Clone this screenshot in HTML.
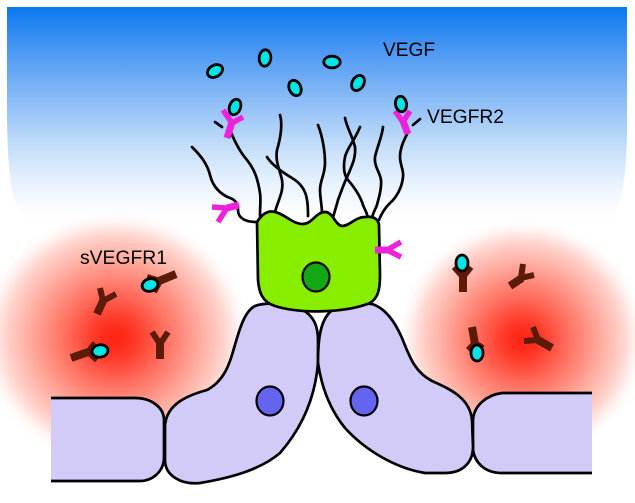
<!DOCTYPE html>
<html>
<head>
<meta charset="utf-8">
<style>
html,body{margin:0;padding:0;background:#fff;}
svg{display:block;}
</style>
</head>
<body>
<svg width="635" height="503" viewBox="0 0 635 503" xmlns="http://www.w3.org/2000/svg">
<defs>
  <linearGradient id="sky" x1="0" y1="7" x2="0" y2="222" gradientUnits="userSpaceOnUse">
    <stop offset="0" stop-color="#0a78f0"/>
    <stop offset="0.18" stop-color="#4494f3"/>
    <stop offset="0.42" stop-color="#88baf7"/>
    <stop offset="0.65" stop-color="#c4def9"/>
    <stop offset="0.82" stop-color="#e8f2fe"/>
    <stop offset="0.93" stop-color="#fafcff"/>
    <stop offset="1" stop-color="#ffffff"/>
  </linearGradient>
  <radialGradient id="red" cx="0.5" cy="0.5" r="0.5">
    <stop offset="0" stop-color="#ff2010"/>
    <stop offset="0.15" stop-color="#ff3626"/>
    <stop offset="0.4" stop-color="#ff7464"/>
    <stop offset="0.65" stop-color="#ffaca0"/>
    <stop offset="0.85" stop-color="#ffd8d2"/>
    <stop offset="1" stop-color="#fff0ee" stop-opacity="0"/>
  </radialGradient>
  <filter id="soft" x="-20%" y="-20%" width="140%" height="140%">
    <feGaussianBlur stdDeviation="4"/>
  </filter>
</defs>

<!-- sky -->
<path d="M7,7 H627 V120 C627,175 623,203 610,220 L24,220 C11,203 8,175 7,120 Z" fill="url(#sky)"/>

<!-- red blobs -->
<ellipse cx="115" cy="338" rx="132" ry="124" fill="url(#red)" filter="url(#soft)"/>
<ellipse cx="522" cy="340" rx="122" ry="118" fill="url(#red)" filter="url(#soft)"/>

<!-- left flat cell -->
<path d="M51,398 H135 C152,398 164,408 164,420 V457 C164,472 152,481 140,481 H51 Z" fill="#d2cbf8"/>
<path d="M51,398 H135 C152,398 164,408 164,420 V457 C164,472 152,481 140,481 H51" fill="none" stroke="#000" stroke-width="2.7"/>

<!-- right flat cell -->
<path d="M592,393 H502 C487,395 474,405 473,420 V450 C475,463 485,473 502,473 H592 Z" fill="#d2cbf8"/>
<path d="M592,393 H502 C487,395 474,405 473,420 V450 C475,463 485,473 502,473 H592" fill="none" stroke="#000" stroke-width="2.7"/>

<!-- left tall cell -->
<path d="M165,425 C167,405 185,396 207,390 C222,382 228,368 232,355 C238,335 243,312 255,306 C265,302 290,303 303,310 C313,316 318,325 318,340 L318,363 C315,400 300,430 280,453 C260,470 230,478 200,483 C180,485 165,475 165,460 Z" fill="#d2cbf8" stroke="#000" stroke-width="2.7"/>
<ellipse cx="270" cy="401" rx="13.5" ry="14.5" fill="#6464f0" stroke="#000" stroke-width="2.2"/>

<!-- right tall cell -->
<path d="M318,363 C318,340 320,322 330,312 C340,304 360,302 372,304 C385,308 395,322 402,338 C410,358 415,372 432,381 C450,389 470,398 472,420 L473,447 C473,462 463,473 445,473 L425,473 C395,468 365,450 345,428 C332,412 322,390 318,363 Z" fill="#d2cbf8" stroke="#000" stroke-width="2.7"/>
<ellipse cx="364" cy="401" rx="13.5" ry="14.5" fill="#6464f0" stroke="#000" stroke-width="2.2"/>

<!-- filopodia -->
<g fill="none" stroke="#000" stroke-width="2.7" stroke-linecap="round">
  <path d="M192,147 C200,155 207,163 210,175 C213,188 222,195 230,198 C236,200 238,205 238,210 C238,218 245,222 257,222"/>
  <path d="M230,130 C234,140 240,152 247,160 C255,170 258,180 260,193 C261,200 260,206 260,216"/>
  <path d="M280,115 C283,125 280,140 277,150 C275,162 280,170 282,180 C284,192 278,200 275,212"/>
  <path d="M267,157 C272,165 282,172 292,178 C302,184 306,192 307,200 C308,205 308,208 308,216"/>
  <path d="M318,125 C322,135 325,150 325,163 C325,175 320,180 320,190 C320,198 322,205 322,214"/>
  <path d="M360,127 C355,140 347,148 345,157 C343,167 344,175 348,180 C354,187 360,195 363,205 C365,210 367,213 368,218"/>
  <path d="M345,118 C347,128 352,135 355,147 C356,158 352,165 348,175 C344,183 341,192 338,200 C336,208 334,213 333,218"/>
  <path d="M383,127 C382,137 377,147 375,157 C374,167 380,172 381,180 C382,190 378,200 377,205 C375,210 373,213 372,218"/>
  <path d="M408,132 C404,140 400,148 400,157 C400,165 404,170 403,177 C402,188 396,198 390,203 C386,207 382,212 379,220"/>
  <path d="M215,122 L222,127"/>
  <path d="M413,125 L420,119"/>
</g>

<!-- green tip cell -->
<path d="M257,222 C262,214 268,210 275,212 C285,214 292,224 303,224 C312,224 316,212 325,212 C333,212 335,225 342,226 C350,226 355,217 365,217 C372,216 378,218 379,225 L380,275 C380,290 378,298 370,303 C345,313 300,314 275,306 C262,302 259,292 258,280 Z" fill="#88ee00" stroke="#000" stroke-width="2.7"/>
<ellipse cx="316" cy="277" rx="13.5" ry="14.5" fill="#14a814" stroke="#000" stroke-width="2.2"/>

<!-- magenta VEGFR2 receptors -->
<g fill="none" stroke="#ee22dd" stroke-linecap="butt">
  <path d="M232,122 L227,138" stroke-width="7"/>
  <path d="M223,110 L232,123 L243,117" stroke-width="5.5"/>
  <path d="M403,121 L408,134" stroke-width="7"/>
  <path d="M395,111 L403,122 L410,111" stroke-width="5.5"/>
  <path d="M239,205 L227,208" stroke-width="7"/>
  <path d="M212,207 L227,208 L218,222" stroke-width="5.5"/>
  <path d="M375,250 L387,250" stroke-width="7"/>
  <path d="M401,242 L387,250 L401,257" stroke-width="5.5"/>
</g>

<!-- brown sVEGFR1 -->
<g fill="none" stroke="#5c1a08" stroke-linecap="butt">
  <path d="M159,281 L176,274" stroke-width="8"/>
  <path d="M147,277 L160,281 L154,292" stroke-width="6"/>
  <path d="M97,314 L103,301" stroke-width="8"/>
  <path d="M100,288 L103,301 L116,294" stroke-width="6"/>
  <path d="M71,358 L88,352" stroke-width="8"/>
  <path d="M95,343 L88,352 L97,360" stroke-width="6"/>
  <path d="M160,359 L160,343" stroke-width="8"/>
  <path d="M152,332 L160,344 L168,332" stroke-width="6"/>
  <path d="M463,292 L463,276" stroke-width="8"/>
  <path d="M454,267 L463,277 L471,267" stroke-width="6"/>
  <path d="M510,286 L522,278" stroke-width="8"/>
  <path d="M523,264 L521,278 L534,275" stroke-width="6"/>
  <path d="M472,327 L475,344" stroke-width="8"/>
  <path d="M468,350 L475,343 L483,348" stroke-width="6"/>
  <path d="M552,348 L538,340" stroke-width="8"/>
  <path d="M524,341 L538,340 L533,327" stroke-width="6"/>
</g>

<!-- VEGF molecules -->
<g fill="#00e6e6" stroke="#000" stroke-width="2.8">
  <ellipse cx="215" cy="71" rx="8" ry="5.8" transform="rotate(-30 215 71)"/>
  <ellipse cx="265" cy="58" rx="5.8" ry="8.2" transform="rotate(5 265 58)"/>
  <ellipse cx="332" cy="62" rx="8.2" ry="5.8"/>
  <ellipse cx="295" cy="88" rx="5.8" ry="8" transform="rotate(-25 295 88)"/>
  <ellipse cx="358" cy="83" rx="5.8" ry="8" transform="rotate(30 358 83)"/>
  <ellipse cx="235" cy="107" rx="5.5" ry="8" transform="rotate(20 235 107)"/>
  <ellipse cx="401" cy="104" rx="5.5" ry="7.8" transform="rotate(-10 401 104)"/>
  <ellipse cx="150" cy="285" rx="8" ry="6.2" transform="rotate(-15 150 285)"/>
  <ellipse cx="100" cy="351" rx="8" ry="6.2" transform="rotate(-10 100 351)"/>
  <ellipse cx="462" cy="263" rx="6" ry="8"/>
  <ellipse cx="477" cy="353" rx="6" ry="8"/>
</g>

<!-- labels -->
<g font-family="'Liberation Sans', Arial, sans-serif" fill="#000" font-size="19">
  <text x="383" y="56" textLength="52" lengthAdjust="spacingAndGlyphs">VEGF</text>
  <text x="427" y="123" textLength="77" lengthAdjust="spacingAndGlyphs">VEGFR2</text>
  <text x="80" y="264" textLength="87" lengthAdjust="spacingAndGlyphs">sVEGFR1</text>
</g>
</svg>
</body>
</html>
